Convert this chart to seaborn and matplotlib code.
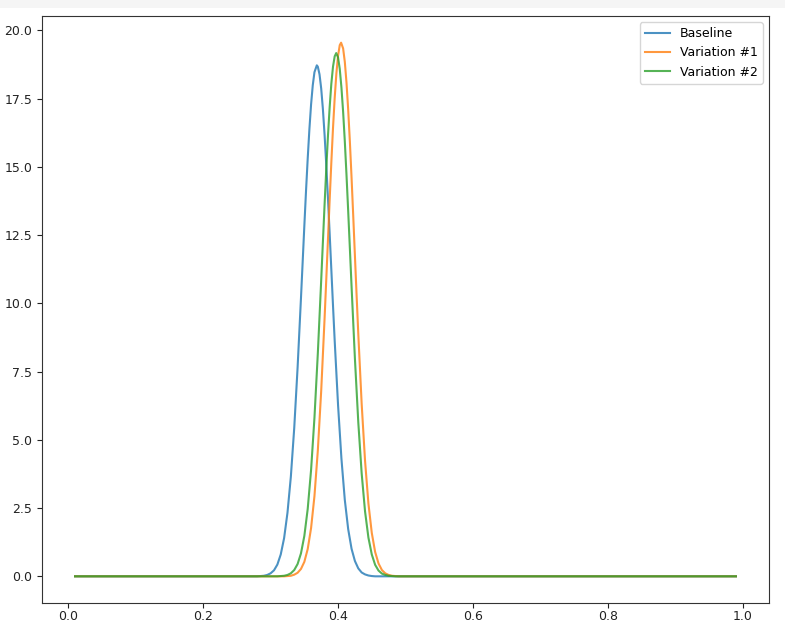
import matplotlib
matplotlib.use("Agg")
import matplotlib.pyplot as plt
import seaborn as sns
import pandas as pd

# ---- data ----
baseline_x = [0.01, 0.28, 0.285, 0.29, 0.295, 0.30, 0.305, 0.31, 0.315, 0.32, 0.325, 0.33, 0.335, 0.34, 0.345,
              0.3475, 0.35, 0.3525, 0.355, 0.3575, 0.36, 0.3625, 0.365, 0.3685, 0.37, 0.3725, 0.375, 0.3775, 0.38,
              0.3825, 0.385, 0.3875, 0.39, 0.3925, 0.395,
              0.40, 0.405, 0.41, 0.415, 0.42, 0.425, 0.43, 0.435, 0.44, 0.445, 0.45, 0.455, 0.46, 0.99]
baseline_y = [0, 0.00, 0.01, 0.02, 0.05, 0.11, 0.22, 0.43, 0.80, 1.40, 2.33, 3.65, 5.43, 7.65, 10.19,
              11.51, 12.84, 14.12, 15.31, 16.38, 17.29, 17.99, 18.47, 18.72, 18.67, 18.39, 17.87, 17.12, 16.18,
              15.08, 13.87, 12.58, 11.25, 9.92, 8.63,
              6.27, 4.31, 2.80, 1.73, 1.01, 0.56, 0.29, 0.14, 0.07, 0.03, 0.01, 0.00, 0.00, 0]

var1_x = [0.01, 0.32, 0.325, 0.33, 0.335, 0.34, 0.345, 0.35, 0.355, 0.36, 0.365, 0.37, 0.375, 0.38,
          0.3825, 0.385, 0.3875, 0.39, 0.3925, 0.395, 0.3975, 0.40, 0.4025, 0.4045, 0.4075, 0.41, 0.4125,
          0.415, 0.4175, 0.42, 0.4225, 0.425, 0.4275, 0.43,
          0.435, 0.44, 0.445, 0.45, 0.455, 0.46, 0.465, 0.47, 0.475, 0.48, 0.485, 0.49, 0.495, 0.99]
var1_y = [0, 0.00, 0.01, 0.02, 0.06, 0.13, 0.27, 0.53, 1.00, 1.77, 2.94, 4.61, 6.80, 9.44,
          10.87, 12.32, 13.77, 15.15, 16.42, 17.52, 18.42, 19.07, 19.46, 19.55, 19.34, 18.85, 18.09,
          17.10, 15.93, 14.61, 13.20, 11.74, 10.29, 8.88,
          6.32, 4.24, 2.67, 1.59, 0.89, 0.47, 0.23, 0.11, 0.05, 0.02, 0.01, 0.00, 0.00, 0]

var2_x = [0.01, 0.31, 0.315, 0.32, 0.325, 0.33, 0.335, 0.34, 0.345, 0.35, 0.355, 0.36, 0.365, 0.37, 0.375,
          0.3775, 0.38, 0.3825, 0.385, 0.3875, 0.39, 0.3925, 0.395, 0.3973, 0.40, 0.4025, 0.405, 0.4075,
          0.41, 0.4125, 0.415, 0.4175, 0.42,
          0.425, 0.43, 0.435, 0.44, 0.445, 0.45, 0.455, 0.46, 0.465, 0.47, 0.475, 0.48, 0.485, 0.49, 0.99]
var2_y = [0, 0.00, 0.01, 0.02, 0.05, 0.11, 0.23, 0.45, 0.84, 1.48, 2.47, 3.90, 5.81, 8.17, 10.85,
          12.24, 13.61, 14.92, 16.12, 17.17, 18.04, 18.67, 19.05, 19.17, 19.01, 18.59, 17.91, 17.02,
          15.94, 14.71, 13.39, 12.02, 10.63,
          7.97, 5.64, 3.77, 2.38, 1.42, 0.80, 0.42, 0.21, 0.10, 0.05, 0.02, 0.01, 0.00, 0.00, 0]

series_names = ["Baseline", "Variation #1", "Variation #2"]
series_x = [baseline_x, var1_x, var2_x]
series_y = [baseline_y, var1_y, var2_y]
colors = ["#1f77b4", "#ff7f0e", "#2ca02c"]

plt.rcParams["font.family"] = ["DejaVu Sans"]

fig = plt.figure(figsize=(7.85, 6.24), dpi=100)
fig.patch.set_facecolor("white")
# light strip at the very top of the screenshot
fig.patches.append(plt.Rectangle((0, 1 - 8 / 624), 1, 8 / 624, transform=fig.transFigure,
                                 facecolor="#f5f5f5", edgecolor="none", zorder=-1))
ax = fig.add_axes([42 / 785, 21 / 624, (769 - 42) / 785, (608 - 21) / 624])

for name, xs, ys, c in zip(series_names, series_x, series_y, colors):
    df = pd.DataFrame({"x": xs, "y": ys})
    sns.lineplot(data=df, x="x", y="y", ax=ax, label=name, color=c, alpha=0.8,
                 linewidth=1.5, estimator=None, sort=True)

ax.set_xlabel("")
ax.set_ylabel("")
ax.set_yticks([0.0, 2.5, 5.0, 7.5, 10.0, 12.5, 15.0, 17.5, 20.0])
ax.set_xticks([0.0, 0.2, 0.4, 0.6, 0.8, 1.0])
ax.tick_params(labelsize=9, colors="#222222", length=3.5)
ax.tick_params(axis="x", pad=1.5)
for s in ax.spines.values():
    s.set_color("#333333")
ax.legend(loc="upper right", fontsize=9, frameon=True)

fig.savefig("out.png", dpi=100)
